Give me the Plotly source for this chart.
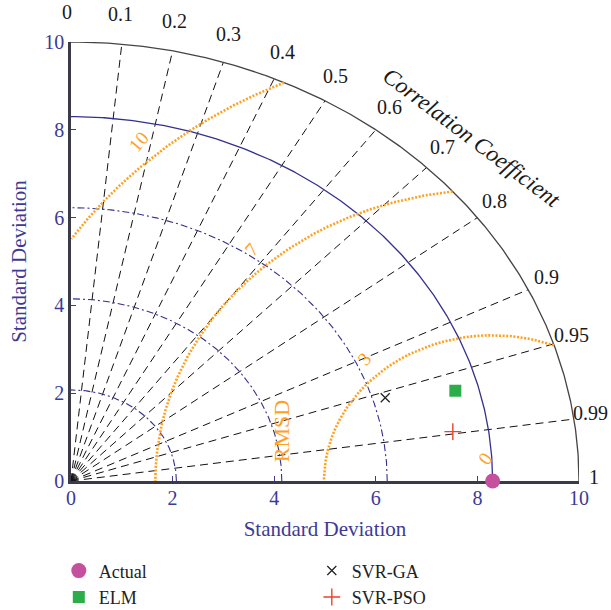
import numpy as np
import plotly.graph_objects as go

# ---------------- data ----------------
model_names = ["Actual", "SVR-GA", "ELM", "SVR-PSO"]
model_std = [8.30, 6.47, 7.84, 7.60]
model_corr = [1.000, 0.956, 0.965, 0.989]

ref_std = 8.30
max_std = 10
std_ticks = [0, 2, 4, 6, 8, 10]
corr_ticks = [0, 0.1, 0.2, 0.3, 0.4, 0.5, 0.6, 0.7, 0.8, 0.9, 0.95, 0.99, 1]
corr_tick_labels = ["0", "0.1", "0.2", "0.3", "0.4", "0.5", "0.6", "0.7",
                    "0.8", "0.9", "0.95", "0.99", "1"]
std_arc_fracs = [0.25, 0.5, 0.75]          # dash-dot arcs as fraction of reference std
rmsd_levels = [3.32, 6.64, 9.96]
rmsd_labels = ["3", "7", "10"]

# ---------------- styles ----------------
BLUE_TXT = "#3D3A96"
BLUE_LN = "#34308F"
ORANGE = "#FFA01E"
FONT = "Liberation Serif"


def polar(r, c):
    th = np.arccos(np.clip(c, -1, 1))
    return r * np.cos(th), r * np.sin(th)


fig = go.Figure()

# correlation rays
cx, cy = [], []
for c in corr_ticks[1:-1]:
    x1, y1 = polar(max_std, c)
    cx += [0, x1, None]
    cy += [0, y1, None]
fig.add_trace(go.Scatter(x=cx, y=cy, mode="lines", hoverinfo="skip", showlegend=False,
                         line=dict(color="#111111", width=1, dash="8px,5px")))

# std dash-dot arcs
th = np.linspace(0, np.pi / 2, 300)
ax_, ay_ = [], []
for f in std_arc_fracs:
    r = f * ref_std
    ax_ += list(r * np.cos(th)) + [None]
    ay_ += list(r * np.sin(th)) + [None]
fig.add_trace(go.Scatter(x=ax_, y=ay_, mode="lines", hoverinfo="skip", showlegend=False,
                         line=dict(color=BLUE_LN, width=1.1, dash="7px,3px,2px,3px")))

# reference std arc (solid)
fig.add_trace(go.Scatter(x=ref_std * np.cos(th), y=ref_std * np.sin(th), mode="lines",
                         hoverinfo="skip", showlegend=False,
                         line=dict(color=BLUE_LN, width=1.3)))

# outer arc
fig.add_trace(go.Scatter(x=max_std * np.cos(th), y=max_std * np.sin(th), mode="lines",
                         hoverinfo="skip", showlegend=False,
                         line=dict(color="#444444", width=1.3)))

# RMSD contours
phi = np.linspace(0, np.pi, 3000)
rx, ry = [], []
for L in rmsd_levels:
    x = ref_std + L * np.cos(phi)
    y = L * np.sin(phi)
    ok = (x ** 2 + y ** 2 <= max_std ** 2) & (x >= 0)
    rx += list(x[ok]) + [None]
    ry += list(y[ok]) + [None]
fig.add_trace(go.Scatter(x=rx, y=ry, mode="lines", hoverinfo="skip", showlegend=False,
                         line=dict(color=ORANGE, width=2.6, dash="2px,1.6px")))

# model points
styles = {
    "Actual": dict(symbol="circle", size=15, color="#C4509E"),
    "SVR-GA": dict(symbol="x-thin", size=9, color="#222222",
                   line=dict(color="#222222", width=1.3)),
    "ELM": dict(symbol="square", size=12, color="#2BAE4A"),
    "SVR-PSO": dict(symbol="cross-thin", size=12, color="#F0402A",
                    line=dict(color="#F0402A", width=1.4)),
}
for n, s, c in zip(model_names, model_std, model_corr):
    px_, py_ = polar(s, c)
    fig.add_trace(go.Scatter(x=[px_], y=[py_], mode="markers", name=n,
                             marker=styles[n], cliponaxis=False))

annotations = []
# correlation tick labels (placed in axis-domain fractions so they may sit outside the range)
for c, lab in zip(corr_ticks, corr_tick_labels):
    s = np.sin(np.arccos(c))
    x, y = polar(10.3 + 0.3 * s, c)
    annotations.append(dict(x=x / max_std, y=y / max_std, xref="x domain", yref="y domain",
                            text=lab, showarrow=False, xshift=-4 * s, yshift=4,
                            font=dict(family=FONT, size=20, color="#1a1a1a"),
                            xanchor="center", yanchor="middle"))
# correlation title
x, y = polar(11.1, 0.71)
annotations.append(dict(x=x, y=y, text="<i>Correlation Coefficient</i>", showarrow=False,
                        textangle=37, font=dict(family=FONT, size=23, color="#1a1a1a"),
                        xanchor="center", yanchor="middle"))
# RMSD labels
ray = np.deg2rad(132)
for L, lab in zip(rmsd_levels, rmsd_labels):
    annotations.append(dict(x=ref_std + (L + 0.45) * np.cos(ray), y=(L + 0.45) * np.sin(ray),
                            text=lab, showarrow=False, textangle=-50,
                            font=dict(family=FONT, size=19, color=ORANGE)))
zray = np.deg2rad(106)
annotations.append(dict(x=ref_std + 0.54 * np.cos(zray), y=0.54 * np.sin(zray), text="0",
                        showarrow=False, textangle=-55,
                        font=dict(family=FONT, size=19, color=ORANGE)))
x, y = polar(4.3, 0.965)
annotations.append(dict(x=x, y=y, text="RMSD", showarrow=False, textangle=-90,
                        font=dict(family=FONT, size=22, color=ORANGE)))

axis_common = dict(range=[0, max_std], tickvals=std_ticks, ticks="inside", ticklen=5,
                   tickcolor=BLUE_TXT, tickwidth=1, showgrid=False, zeroline=False,
                   showline=True, linecolor="#3a3a48", linewidth=2.5, automargin=False,
                   tickfont=dict(family=FONT, size=20, color=BLUE_TXT),
                   layer="below traces")

fig.update_layout(
    width=611, height=610,
    margin=dict(l=71, r=32, t=42, b=129, autoexpand=False),
    plot_bgcolor="white", paper_bgcolor="white",
    xaxis=dict(**axis_common, ticklabelstandoff=-3,
               title=dict(text="Standard Deviation", standoff=14,
                          font=dict(family=FONT, size=21, color=BLUE_TXT))),
    yaxis=dict(**axis_common, ticklabelstandoff=0,
               title=dict(text="Standard Deviation", standoff=12,
                          font=dict(family=FONT, size=21, color=BLUE_TXT))),
    annotations=annotations,
    showlegend=True,
    legend=dict(orientation="h", x=-0.024, xanchor="left", y=-0.1626, yanchor="top",
                entrywidth=208, entrywidthmode="pixels", traceorder="normal",
                font=dict(family=FONT, size=18, color="#222222"),
                bgcolor="rgba(0,0,0,0)"),
)

fig.write_html("out.html", config={"displayModeBar": False},
               post_script="document.body.style.margin='0';")
